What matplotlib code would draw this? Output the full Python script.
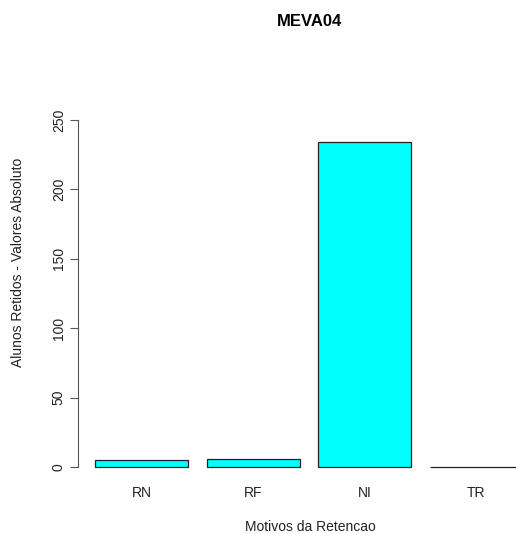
import matplotlib
matplotlib.use("Agg")
import matplotlib.pyplot as plt
import numpy as np

categories = ["RN", "RF", "NI", "TR"]
values = [5, 6, 234, 0]
yticks = [0, 50, 100, 150, 200, 250]

plt.rcParams['font.family'] = ['Liberation Sans', 'DejaVu Sans']

W, H = 516, 534
fig = plt.figure(figsize=(W / 100, H / 100), dpi=100)
ax = fig.add_axes([78 / W, (H - 480.9) / H, 462 / W, 374.8 / H])

x = 0.7 + 1.2 * np.arange(len(categories))
ax.bar(x, values, width=1.0, color="#00FFFF", edgecolor="#222222", linewidth=0.9)
ax.set_xlim(0.016, 4.984)
ax.set_ylim(-10, 260)

for s in ["top", "right", "bottom"]:
    ax.spines[s].set_visible(False)
ax.spines["left"].set_bounds(0, 250)
ax.spines["left"].set_color("#555555")

txt = "#222222"
ax.set_yticks(yticks)
ax.set_yticklabels([str(v) for v in yticks], rotation=90, va="center", fontsize=10, color=txt)
ax.tick_params(axis="y", length=5.8, color="#555555", pad=3)
ax.set_xticks(x)
ax.set_xticklabels(categories, fontsize=10, color=txt)
ax.tick_params(axis="x", length=0, pad=4)

ax.set_ylabel("Alunos Retidos - Valores Absoluto", fontsize=10, color=txt)
ax.yaxis.set_label_coords((18 - 78) / 462, (480.9 - 262.5) / 374.8)
ax.yaxis.label.set_va("center")
ax.set_xlabel("Motivos da Retencao", fontsize=10, color=txt)
ax.xaxis.set_label_coords((310 - 78) / 462, (480.9 - 527) / 374.8)
ax.xaxis.label.set_va("center")

fig.text(309.5 / W, 1 - 22 / H, "MEVA04", ha="center", va="center", fontsize=12, fontweight="bold")

fig.savefig("out.png", dpi=100)
